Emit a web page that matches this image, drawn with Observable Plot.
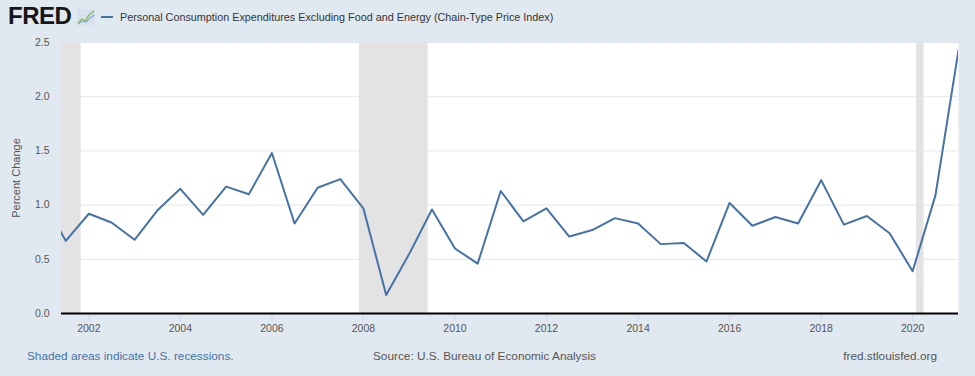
<!DOCTYPE html>
<html>
<head>
<meta charset="utf-8">
<script src="https://cdn.jsdelivr.net/npm/d3@7"></script>
<script src="https://cdn.jsdelivr.net/npm/@observablehq/plot@0.6"></script>
<style>
  html, body { margin: 0; padding: 0; background: #e1e9f0; width: 975px; height: 376px; overflow: hidden;
    font-family: "Liberation Sans", Arial, sans-serif; }
  #header { position: relative; height: 30px; }
  #logo { position: absolute; left: 8px; top: 2px; font-weight: bold; font-size: 24px; letter-spacing: -0.5px; color: #161616; line-height: 28px; }
  #icon { position: absolute; left: 77px; top: 9px; }
  #dash { position: absolute; left: 101px; top: 16px; width: 12px; height: 2px; background: #4572a7; }
  #title { position: absolute; left: 120px; top: 10px; font-size: 10.8px; color: #333; line-height: 14px; white-space: nowrap; }
  #chart { height: 310px; }
  #footer { position: relative; height: 36px; font-size: 11.8px; }
  #footer span { position: absolute; top: 8px; white-space: nowrap; line-height: 16px; }
  #note { left: 27px; color: #4572a7; }
  #source { left: 373px; color: #555; }
  #site { right: 38px; color: #555; }
</style>
</head>
<body>
<div id="header">
  <div id="logo">FRED</div>
  <svg id="icon" width="18" height="16" viewBox="0 0 18 16">
    <rect x="0" y="0" width="18" height="16" fill="#d8e2ec"/>
    <polyline points="1,14 5,10 8,12 12,6 17,2" fill="none" stroke="#8fbf6a" stroke-width="1.5"/>
    <polyline points="1,15 5,12 9,13 13,9 17,6" fill="none" stroke="#7ea6cf" stroke-width="1.2"/>
  </svg>
  <div id="dash"></div>
  <div id="title">Personal Consumption Expenditures Excluding Food and Energy (Chain-Type Price Index)</div>
</div>
<div id="chart"></div>
<div id="footer">
  <span id="note">Shaded areas indicate U.S. recessions.</span>
  <span id="source">Source: U.S. Bureau of Economic Analysis</span>
  <span id="site">fred.stlouisfed.org</span>
</div>
<script>
// Semiannual observations (percent change)
const dates = [
  "2001-01-01","2001-07-01","2002-01-01","2002-07-01","2003-01-01","2003-07-01",
  "2004-01-01","2004-07-01","2005-01-01","2005-07-01","2006-01-01","2006-07-01",
  "2007-01-01","2007-07-01","2008-01-01","2008-07-01","2009-01-01","2009-07-01",
  "2010-01-01","2010-07-01","2011-01-01","2011-07-01","2012-01-01","2012-07-01",
  "2013-01-01","2013-07-01","2014-01-01","2014-07-01","2015-01-01","2015-07-01",
  "2016-01-01","2016-07-01","2017-01-01","2017-07-01","2018-01-01","2018-07-01",
  "2019-01-01","2019-07-01","2020-01-01","2020-07-01","2021-01-01"
];
const values = [
  1.05, 0.67, 0.92, 0.84, 0.68, 0.95,
  1.15, 0.91, 1.17, 1.10, 1.48, 0.83,
  1.16, 1.24, 0.97, 0.17, 0.55, 0.96,
  0.60, 0.46, 1.13, 0.85, 0.97, 0.71,
  0.77, 0.88, 0.83, 0.64, 0.65, 0.48,
  1.02, 0.81, 0.89, 0.83, 1.23, 0.82,
  0.90, 0.74, 0.39, 1.09, 2.43
];
const recessionStarts = ["2001-03-01", "2007-12-01", "2020-02-01"];
const recessionEnds   = ["2001-11-01", "2009-06-01", "2020-04-01"];
const xTickYears = ["2002","2004","2006","2008","2010","2012","2014","2016","2018","2020"];
const yTicks = [0, 0.5, 1.0, 1.5, 2.0, 2.5];
const yLabel = "Percent Change";
const xDomain = ["2001-05-28", "2021-01-01"];

const data = dates.map((d, i) => ({date: new Date(d), value: values[i]}));
const recessions = recessionStarts.map((s, i) => ({start: new Date(s), end: new Date(recessionEnds[i])}));
const xTicks = xTickYears.map(y => new Date(y + "-01-01"));

const chart = Plot.plot({
  width: 975,
  height: 310,
  marginLeft: 61,
  marginRight: 17,
  marginTop: 12,
  marginBottom: 27,
  style: {background: "#e1e9f0", fontFamily: "Liberation Sans, Arial, sans-serif", fontSize: "10.5px", overflow: "visible"},
  x: {type: "utc", domain: xDomain.map(d => new Date(d))},
  y: {domain: [0, 2.5]},
  marks: [
    Plot.frame({fill: "white", stroke: null}),
    Plot.gridY(yTicks, {stroke: "#e6e6e6", strokeOpacity: 1}),
    Plot.rect(recessions, {x1: "start", x2: "end", y1: 0, y2: 2.5, fill: "#e3e3e3", clip: true}),
    Plot.line(data, {x: "date", y: "value", stroke: "#4572a7", strokeWidth: 2, clip: true}),
    Plot.axisX(xTicks, {tickFormat: "%Y", tickSize: 8, tickPadding: 3, stroke: "#ccd6eb", fill: "#555", label: null}),
    Plot.ruleY([0], {stroke: "#000", strokeWidth: 2}),
    Plot.axisY(yTicks, {tickFormat: d => d.toFixed(1), tickSize: 0, tickPadding: 12, fill: "#555", label: null}),
    Plot.text([yLabel], {frameAnchor: "left", rotate: -90, dx: -45, fill: "#555", fontSize: 11, textAnchor: "middle"})
  ]
});
document.getElementById("chart").appendChild(chart);
</script>
</body>
</html>
